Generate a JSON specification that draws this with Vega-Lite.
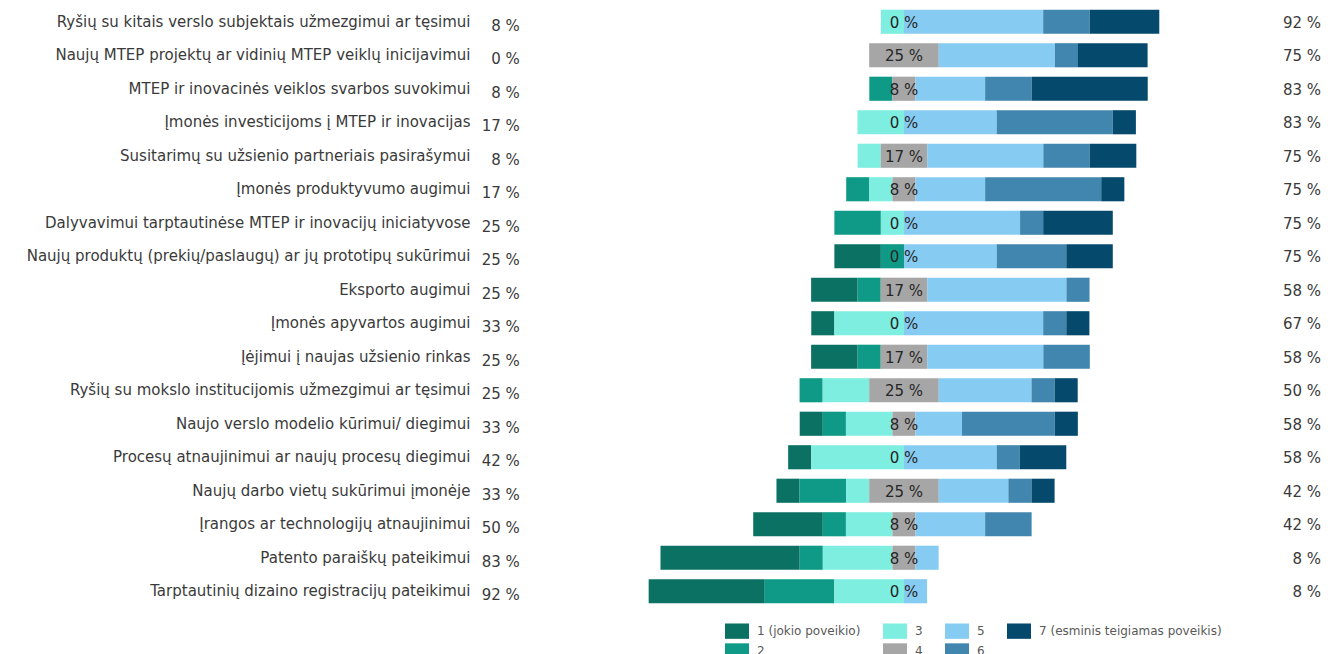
{
  "$schema": "https://vega.github.io/schema/vega-lite/v6.json",
  "width": 850,
  "height": 603,
  "autosize": {"type": "none"},
  "padding": {"left": 478, "top": 5, "right": 5, "bottom": 46},
  "background": "white",
  "config": {"view": {"stroke": null}, "font": "DejaVu Sans"},
  "data": {"values": [
    {"item": "Ryšių su kitais verslo subjektais užmezgimui ar tęsimui", "c1": 0, "c2": 0, "c3": 8.3, "c4": 0, "c5": 50, "c6": 16.7, "c7": 25},
    {"item": "Naujų MTEP projektų ar vidinių MTEP veiklų inicijavimui", "c1": 0, "c2": 0, "c3": 0, "c4": 25, "c5": 41.7, "c6": 8.3, "c7": 25},
    {"item": "MTEP ir inovacinės veiklos svarbos suvokimui", "c1": 0, "c2": 8.3, "c3": 0, "c4": 8.3, "c5": 25, "c6": 16.7, "c7": 41.7},
    {"item": "Įmonės investicijoms į MTEP ir inovacijas", "c1": 0, "c2": 0, "c3": 16.7, "c4": 0, "c5": 33.3, "c6": 41.7, "c7": 8.3},
    {"item": "Susitarimų su užsienio partneriais pasirašymui", "c1": 0, "c2": 0, "c3": 8.3, "c4": 16.7, "c5": 41.7, "c6": 16.7, "c7": 16.7},
    {"item": "Įmonės produktyvumo augimui", "c1": 0, "c2": 8.3, "c3": 8.3, "c4": 8.3, "c5": 25, "c6": 41.7, "c7": 8.3},
    {"item": "Dalyvavimui tarptautinėse MTEP ir inovacijų iniciatyvose", "c1": 0, "c2": 16.7, "c3": 8.3, "c4": 0, "c5": 41.7, "c6": 8.3, "c7": 25},
    {"item": "Naujų produktų (prekių/paslaugų) ar jų prototipų sukūrimui", "c1": 16.7, "c2": 8.3, "c3": 0, "c4": 0, "c5": 33.3, "c6": 25, "c7": 16.7},
    {"item": "Eksporto augimui", "c1": 16.7, "c2": 8.3, "c3": 0, "c4": 16.7, "c5": 50, "c6": 8.3, "c7": 0},
    {"item": "Įmonės apyvartos augimui ", "c1": 8.3, "c2": 0, "c3": 25, "c4": 0, "c5": 50, "c6": 8.3, "c7": 8.3},
    {"item": "Įėjimui į naujas užsienio rinkas", "c1": 16.7, "c2": 8.3, "c3": 0, "c4": 16.7, "c5": 41.7, "c6": 16.7, "c7": 0},
    {"item": "Ryšių su mokslo institucijomis užmezgimui ar tęsimui", "c1": 0, "c2": 8.3, "c3": 16.7, "c4": 25, "c5": 33.3, "c6": 8.3, "c7": 8.3},
    {"item": "Naujo verslo modelio kūrimui/ diegimui", "c1": 8.3, "c2": 8.3, "c3": 16.7, "c4": 8.3, "c5": 16.7, "c6": 33.3, "c7": 8.3},
    {"item": "Procesų atnaujinimui ar naujų procesų diegimui", "c1": 8.3, "c2": 0, "c3": 33.3, "c4": 0, "c5": 33.3, "c6": 8.3, "c7": 16.7},
    {"item": "Naujų darbo vietų sukūrimui įmonėje", "c1": 8.3, "c2": 16.7, "c3": 8.3, "c4": 25, "c5": 25, "c6": 8.3, "c7": 8.3},
    {"item": "Įrangos ar technologijų atnaujinimui", "c1": 25, "c2": 8.3, "c3": 16.7, "c4": 8.3, "c5": 25, "c6": 16.7, "c7": 0},
    {"item": "Patento paraiškų pateikimui", "c1": 50, "c2": 8.3, "c3": 25, "c4": 8.3, "c5": 8.3, "c6": 0, "c7": 0},
    {"item": "Tarptautinių dizaino registracijų pateikimui", "c1": 41.7, "c2": 25, "c3": 25, "c4": 0, "c5": 8.3, "c6": 0, "c7": 0}
  ]},
  "encoding": {
    "y": {
      "field": "item", "type": "nominal", "sort": null,
      "scale": {"paddingInner": 0.28, "paddingOuter": 0.14},
      "axis": {"title": null, "domain": false, "ticks": false, "labelPadding": 8, "labelFontSize": 15, "labelColor": "#3a3a3a", "labelLimit": 600, "labelFont": "DejaVu Sans"}
    }
  },
  "layer": [
    {
      "transform": [
        {"calculate": "datum.c4 / 2", "as": "c4a"},
        {"calculate": "datum.c4 / 2", "as": "c4b"},
        {"fold": ["c1", "c2", "c3", "c4a", "c4b", "c5", "c6", "c7"], "as": ["cat", "v"]},
        {"calculate": "indexof(['c1','c2','c3','c4a'], datum.cat) >= 0 ? -datum.v : datum.v", "as": "sv"},
        {"calculate": "{'c4a':0,'c3':1,'c2':2,'c1':3,'c4b':0,'c5':1,'c6':2,'c7':3}[datum.cat]", "as": "ord"}
      ],
      "mark": {"type": "bar"},
      "encoding": {
        "x": {"field": "sv", "type": "quantitative", "stack": "zero",
              "scale": {"domain": [-153, 152.3], "nice": false, "zero": false}, "axis": null},
        "order": {"field": "ord", "type": "quantitative"},
        "color": {
          "field": "cat", "type": "nominal",
          "scale": {
            "domain": ["c1", "c2", "c3", "c4a", "c4b", "c5", "c6", "c7"],
            "range": ["#0b7163", "#0f9a88", "#7deee0", "#a6a6a6", "#a6a6a6", "#86cbf1", "#4186ae", "#05496c"]
          },
          "legend": {
            "title": null,
            "orient": "none",
            "legendX": 247,
            "legendY": 614,
            "direction": "horizontal",
            "columns": 4,
            "values": ["c1", "c3", "c5", "c7", "c2", "c4a", "c6"],
            "labelExpr": "{'c1':'1 (jokio poveikio)','c2':'2','c3':'3','c4a':'4','c5':'5','c6':'6','c7':'7 (esminis teigiamas poveikis)'}[datum.value]",
            "symbolType": "M-1,-0.64H1V0.64H-1Z",
            "symbolSize": 576,
            "symbolStrokeWidth": 0,
            "labelFontSize": 12,
            "labelColor": "#595959",
            "labelLimit": 400,
            "labelOffset": 8,
            "columnPadding": 22,
            "rowPadding": 0
          }
        }
      }
    },
    {
      "transform": [{"calculate": "format(datum.c4, '.0f') + ' %'", "as": "mid"}],
      "mark": {"type": "text", "fontSize": 15, "color": "#262626", "dy": 1},
      "encoding": {"x": {"datum": 0, "type": "quantitative"}, "text": {"field": "mid"}}
    },
    {
      "transform": [{"calculate": "format(datum.c1 + datum.c2 + datum.c3, '.0f') + ' %'", "as": "left"}],
      "mark": {"type": "text", "fontSize": 15, "color": "#3a3a3a", "align": "right", "dy": 4},
      "encoding": {"x": {"datum": -138, "type": "quantitative"}, "text": {"field": "left"}}
    },
    {
      "transform": [{"calculate": "format(datum.c5 + datum.c6 + datum.c7, '.0f') + ' %'", "as": "right"}],
      "mark": {"type": "text", "fontSize": 15, "color": "#3a3a3a", "align": "right", "dy": 1},
      "encoding": {"x": {"datum": 149.8, "type": "quantitative"}, "text": {"field": "right"}}
    }
  ]
}
